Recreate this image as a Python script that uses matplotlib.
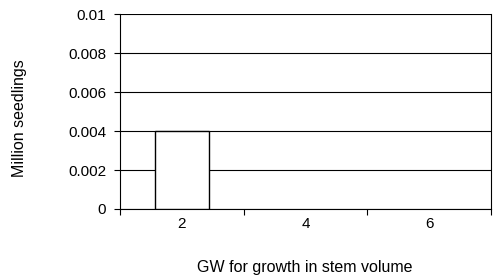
import matplotlib.pyplot as plt
import numpy as np

plt.rcParams['font.family'] = ['Liberation Sans', 'DejaVu Sans']

categories = ['2', '4', '6']
values = [0.004, 0.0, 0.0]
yticks = [0, 0.002, 0.004, 0.006, 0.008, 0.01]
ytick_labels = ['0', '0.002', '0.004', '0.006', '0.008', '0.01']

fig = plt.figure(figsize=(4.95, 2.75), dpi=100)
ax = fig.add_axes([0.2424, 0.24, 0.7495, 0.709])

x = np.arange(len(categories))
# zero-height bars leave no visible outline in the original
edge_widths = [1.0 if v > 0 else 0 for v in values]
ax.bar(x, values, width=0.44, color='white', edgecolor='black',
       linewidth=edge_widths, zorder=3)

ax.set_xlim(-0.5, len(categories) - 0.5)
ax.set_ylim(0, 0.01)
ax.set_yticks(yticks)
ax.set_yticklabels(ytick_labels)
ax.set_xticks(x)
ax.set_xticklabels(categories)
ax.set_xticks(np.arange(len(categories) + 1) - 0.5, minor=True)
ax.tick_params(axis='x', which='major', length=0, pad=6, labelsize=11)
ax.tick_params(axis='x', which='minor', length=4, width=0.8, direction='out')
ax.tick_params(axis='y', length=4, width=0.8, direction='out', labelsize=11, pad=6)

ax.yaxis.grid(True, color='black', linewidth=0.8, zorder=0)
ax.set_axisbelow(True)
for s in ['left', 'bottom', 'right']:
    ax.spines[s].set_linewidth(0.8)
ax.spines['top'].set_visible(False)

fig.text(19.5 / 495, 1 - 118 / 275, 'Million seedlings', rotation=90,
         ha='center', va='center', fontsize=11.5)
fig.text(305 / 495, 1 - 272 / 275, 'GW for growth in stem volume',
         ha='center', va='baseline', fontsize=11.5)

plt.savefig('out.png', dpi=100, facecolor='white')
plt.close()
